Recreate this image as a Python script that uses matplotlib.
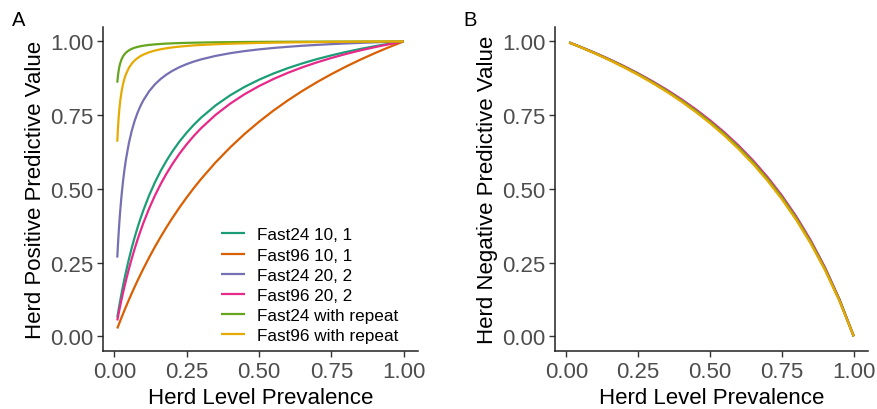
import matplotlib
matplotlib.use('Agg')
from matplotlib import pyplot as plt

plt.rcParams['font.family'] = ['Liberation Sans', 'DejaVu Sans']

# series names and colours (Dark2)
labels = ['Fast24 10, 1', 'Fast96 10, 1', 'Fast24 20, 2', 'Fast96 20, 2',
          'Fast24 with repeat', 'Fast96 with repeat']
colors = ['#1B9E77', '#D95F02', '#7570B3', '#E7298A', '#66A61E', '#E6AB02']

ticks = [0.0, 0.25, 0.5, 0.75, 1.0]
tick_labels = ['0.00', '0.25', '0.50', '0.75', '1.00']

# panel A: herd positive predictive value
prev_a = [0.01, 0.0125, 0.015, 0.0175, 0.02, 0.025, 0.03, 0.035, 0.04, 0.05,
          0.06, 0.07, 0.08, 0.09, 0.1, 0.12, 0.14, 0.16, 0.18, 0.2,
          0.225, 0.25, 0.275, 0.3, 0.35, 0.4, 0.45, 0.5, 0.55, 0.6,
          0.65, 0.7, 0.75, 0.8, 0.85, 0.9, 0.95, 1.0]
ppv_fast24_10_1 = [0.0634, 0.0782, 0.0926, 0.1066, 0.1203, 0.1466, 0.1716, 0.1955, 0.2182, 0.2607,
                   0.2996, 0.3352, 0.3682, 0.3986, 0.4268, 0.4774, 0.5217, 0.5607, 0.5952, 0.6262,
                   0.6605, 0.6907, 0.7177, 0.7417, 0.7830, 0.8171, 0.8457, 0.8701, 0.8912, 0.9095,
                   0.9256, 0.9399, 0.9526, 0.9640, 0.9743, 0.9837, 0.9922, 1.0]
ppv_fast96_10_1 = [0.0263, 0.0327, 0.0391, 0.0454, 0.0517, 0.0641, 0.0763, 0.0883, 0.1001, 0.1232,
                   0.1456, 0.1673, 0.1884, 0.2089, 0.2288, 0.2669, 0.3030, 0.3371, 0.3695, 0.4003,
                   0.4367, 0.4709, 0.5032, 0.5337, 0.5898, 0.6403, 0.6860, 0.7275, 0.7655, 0.8002,
                   0.8322, 0.8617, 0.8890, 0.9144, 0.9380, 0.9601, 0.9807, 1.0]
ppv_fast24_20_2 = [0.2667, 0.3130, 0.3541, 0.3907, 0.4235, 0.4800, 0.5268, 0.5663, 0.6000, 0.6545,
                   0.6968, 0.7304, 0.7579, 0.7807, 0.8000, 0.8308, 0.8543, 0.8727, 0.8876, 0.9000,
                   0.9127, 0.9231, 0.9318, 0.9391, 0.9509, 0.9600, 0.9672, 0.9730, 0.9778, 0.9818,
                   0.9853, 0.9882, 0.9908, 0.9931, 0.9951, 0.9969, 0.9985, 1.0]
ppv_fast96_20_2 = [0.0535, 0.0662, 0.0786, 0.0907, 0.1026, 0.1256, 0.1476, 0.1688, 0.1892, 0.2276,
                   0.2633, 0.2965, 0.3275, 0.3564, 0.3836, 0.4330, 0.4769, 0.5161, 0.5514, 0.5833,
                   0.6192, 0.6512, 0.6800, 0.7059, 0.7510, 0.7887, 0.8209, 0.8485, 0.8725, 0.8936,
                   0.9123, 0.9289, 0.9438, 0.9573, 0.9695, 0.9805, 0.9907, 1.0]
ppv_fast24_rep = [0.8600, 0.8850, 0.9025, 0.9155, 0.9254, 0.9397, 0.9495, 0.9566, 0.9620, 0.9697,
                  0.9749, 0.9786, 0.9814, 0.9836, 0.9854, 0.9881, 0.9900, 0.9914, 0.9926, 0.9935,
                  0.9944, 0.9951, 0.9957, 0.9962, 0.9970, 0.9975, 0.9980, 0.9984, 0.9987, 0.9989,
                  0.9991, 0.9993, 0.9995, 0.9996, 0.9997, 0.9998, 0.9999, 1.0]
ppv_fast96_rep = [0.6598, 0.7085, 0.7451, 0.7737, 0.7967, 0.8312, 0.8559, 0.8744, 0.8889, 0.9100,
                  0.9246, 0.9353, 0.9435, 0.9500, 0.9552, 0.9632, 0.9690, 0.9734, 0.9768, 0.9796,
                  0.9824, 0.9846, 0.9865, 0.9880, 0.9904, 0.9922, 0.9937, 0.9948, 0.9958, 0.9965,
                  0.9972, 0.9978, 0.9983, 0.9987, 0.9991, 0.9994, 0.9997, 1.0]

# panel B: herd negative predictive value
prev_b = [0.01, 0.05, 0.1, 0.15, 0.2, 0.25, 0.3, 0.35, 0.4, 0.45, 0.5,
          0.55, 0.6, 0.65, 0.7, 0.75, 0.8, 0.85, 0.9, 0.95, 1.0]
npv_fast24_10_1 = [0.9963, 0.9809, 0.9605, 0.9387, 0.9153, 0.8902, 0.8631, 0.8339, 0.8021, 0.7676, 0.7299,
                   0.6886, 0.6431, 0.5927, 0.5367, 0.4739, 0.4032, 0.3229, 0.2309, 0.1245, 0.0]
npv_fast96_10_1 = [0.9962, 0.9804, 0.9595, 0.9372, 0.9132, 0.8876, 0.8600, 0.8301, 0.7979, 0.7628, 0.7246,
                   0.6829, 0.6369, 0.5863, 0.5300, 0.4673, 0.3968, 0.3171, 0.2262, 0.1217, 0.0]
npv_fast24_20_2 = [0.9963, 0.9808, 0.9603, 0.9384, 0.9149, 0.8897, 0.8625, 0.8331, 0.8013, 0.7667, 0.7289,
                   0.6874, 0.6418, 0.5914, 0.5353, 0.4726, 0.4019, 0.3218, 0.2300, 0.1239, 0.0]
npv_fast96_20_2 = [0.9963, 0.9812, 0.9610, 0.9395, 0.9164, 0.8915, 0.8647, 0.8357, 0.8043, 0.7700, 0.7326,
                   0.6915, 0.6462, 0.5960, 0.5401, 0.4773, 0.4065, 0.3259, 0.2334, 0.1260, 0.0]
npv_fast24_rep = [0.9963, 0.9807, 0.9601, 0.9381, 0.9145, 0.8892, 0.8619, 0.8324, 0.8004, 0.7657, 0.7278,
                  0.6863, 0.6406, 0.5901, 0.5340, 0.4713, 0.4006, 0.3206, 0.2290, 0.1234, 0.0]
npv_fast96_rep = [0.9961, 0.9802, 0.9591, 0.9365, 0.9124, 0.8865, 0.8587, 0.8287, 0.7962, 0.7609, 0.7225,
                  0.6806, 0.6345, 0.5837, 0.5274, 0.4647, 0.3943, 0.3149, 0.2244, 0.1205, 0.0]

ppv_series = [ppv_fast24_10_1, ppv_fast96_10_1, ppv_fast24_20_2,
              ppv_fast96_20_2, ppv_fast24_rep, ppv_fast96_rep]
npv_series = [npv_fast24_10_1, npv_fast96_10_1, npv_fast24_20_2,
              npv_fast96_20_2, npv_fast24_rep, npv_fast96_rep]


def style_axes(ax, ylabel):
    ax.set_xlim(-0.0395, 1.0495)
    ax.set_ylim(-0.05, 1.05)
    ax.set_xticks(ticks, tick_labels)
    ax.set_yticks(ticks, tick_labels)
    for side in ['top', 'right']:
        ax.spines[side].set_visible(False)
    for side in ['left', 'bottom']:
        ax.spines[side].set_linewidth(1.1)
        ax.spines[side].set_color('#222222')
    ax.tick_params(length=4, width=1.0, color='#333333', labelcolor='#4D4D4D',
                   labelsize=16, pad=3)
    ax.set_xlabel('Herd Level Prevalence', fontsize=16, labelpad=4)
    ax.set_ylabel(ylabel, fontsize=16, labelpad=3)


fig = plt.figure(figsize=(8.77, 4.10), dpi=100)

ax_a = fig.add_axes([0.1174, 0.1415, 0.3592, 0.791])
for ys, c, lab in zip(ppv_series, colors, labels):
    ax_a.plot(prev_a, ys, color=c, lw=1.6, label=lab, solid_capstyle='butt')
style_axes(ax_a, 'Herd Positive Predictive Value')
ax_a.legend(loc='upper left', bbox_to_anchor=(0.3746, 0.381), frameon=False,
            fontsize=12.3, handlelength=1.4, handletextpad=0.7, labelspacing=0.3,
            borderpad=0, borderaxespad=0)

ax_b = fig.add_axes([0.6328, 0.1415, 0.3569, 0.791])
for ys, c in zip(npv_series, colors):
    ax_b.plot(prev_b, ys, color=c, lw=1.6, solid_capstyle='butt')
style_axes(ax_b, 'Herd Negative Predictive Value')

fig.text(12 / 877, 1 - 26 / 410, 'A', fontsize=14.5)
fig.text(463 / 877, 1 - 26 / 410, 'B', fontsize=14.5)

fig.savefig('out.png', dpi=100)
